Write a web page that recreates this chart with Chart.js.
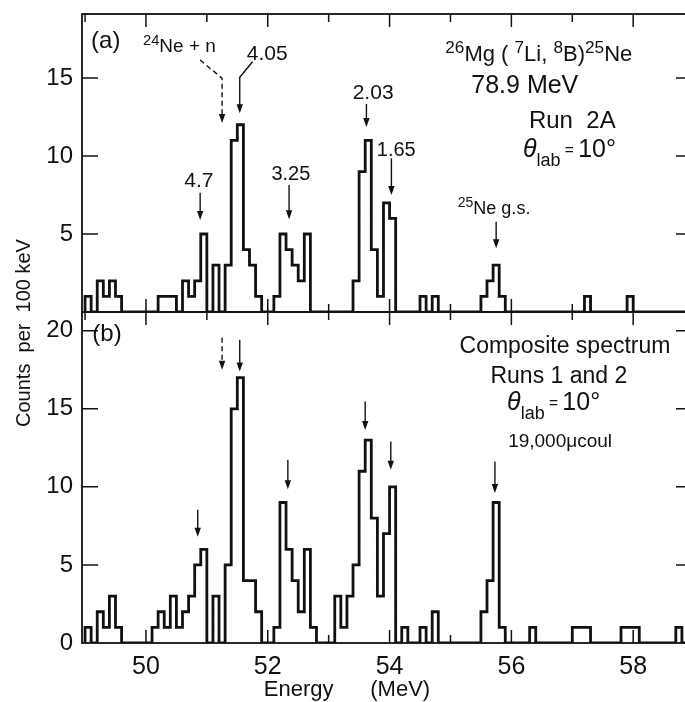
<!DOCTYPE html>
<html>
<head>
<meta charset="utf-8">
<script src="https://cdn.jsdelivr.net/npm/chart.js@4.4.1/dist/chart.umd.min.js"></script>
<style>
    html, body { margin: 0; padding: 0; background: #fff; overflow: hidden; }
    #wrap { position: relative; width: 685px; height: 702px; overflow: hidden; background: #fff; }
    #wrap canvas { position: absolute; left: 0; top: 0; }
</style>
</head>
<body>
<div id="wrap">
    <canvas id="panelA" width="700" height="702"></canvas>
    <canvas id="panelB" width="700" height="702"></canvas>
</div>
<script>
// counts per 100 keV bin, the bin is given by its lower edge in MeV (empty bins left out)
var binsA = [49.0, 49.2, 49.3, 49.4, 49.5,
    50.2, 50.3, 50.4, 50.6, 50.7, 50.8, 50.9,
    51.1, 51.3, 51.4, 51.5, 51.6, 51.7, 51.8,
    52.1, 52.2, 52.3, 52.4, 52.5, 52.6,
    53.4, 53.5, 53.6, 53.7, 53.8, 53.9, 54.0,
    54.5, 54.7, 55.5, 55.6, 55.7, 55.8, 57.2, 57.9];
var countsA = [1, 2, 1, 2, 1,
    1, 1, 1, 2, 1, 2, 5,
    3, 3, 11, 12, 4, 3, 1,
    1, 5, 4, 3, 2, 5,
    2, 9, 11, 4, 1, 7, 6,
    1, 1, 1, 2, 3, 1, 1, 1];

var binsB = [49.0, 49.2, 49.3, 49.4, 49.5,
    50.1, 50.2, 50.3, 50.4, 50.5, 50.6, 50.7, 50.8, 50.9,
    51.1, 51.3, 51.4, 51.5, 51.6, 51.7, 51.8,
    52.1, 52.2, 52.3, 52.4, 52.5, 52.6, 52.7,
    53.1, 53.2, 53.3, 53.4, 53.5, 53.6, 53.7, 53.8, 53.9, 54.0,
    54.2, 54.5, 54.7,
    55.5, 55.6, 55.7, 55.8,
    56.3, 57.0, 57.1, 57.2, 57.8, 57.9, 58.0, 58.7];
var countsB = [1, 2, 1, 3, 1,
    1, 2, 1, 3, 1, 2, 3, 5, 6,
    3, 5, 15, 17, 4, 4, 2,
    1, 9, 6, 4, 2, 6, 1,
    3, 1, 3, 5, 11, 13, 8, 3, 7, 10,
    1, 1, 2,
    2, 4, 9, 1,
    1, 1, 1, 1, 1, 1, 1, 1];

var firstBin = 49.0;
var lastBin = 58.8;

// axis ticks and labels
var energyTicks = [49, 50, 51, 52, 53, 54, 55, 56, 57, 58];
var energyLabels = [50, 52, 54, 56, 58];
var countTicksA = [5, 10, 15];
var countTicksB = [0, 5, 10, 15, 20];

// annotations, placed in data units (MeV, counts)
var textsA = [
    { e: 49.34, c: 16.9, size: 24, align: 'center', parts: [['(a)']] },
    { e: 49.95, c: 16.67, size: 19, align: 'left', parts: [['24', 'sup'], ['Ne + n']] },
    { e: 51.99, c: 16.15, size: 21, align: 'center', parts: [['4.05']] },
    { e: 50.87, c: 8.04, size: 21, align: 'center', parts: [['4.7']] },
    { e: 52.38, c: 8.46, size: 20, align: 'center', parts: [['3.25']] },
    { e: 53.73, c: 13.65, size: 21, align: 'center', parts: [['2.03']] },
    { e: 54.11, c: 10.0, size: 20, align: 'center', parts: [['1.65']] },
    { e: 55.12, c: 6.28, size: 18, align: 'left', parts: [['25', 'sup'], ['Ne g.s.']] },
    { e: 56.45, c: 16.09, size: 22, align: 'center', parts: [['26', 'sup'], ['Mg ( '], ['7', 'sup'], ['Li, '], ['8', 'sup'], ['B)'], ['25', 'sup'], ['Ne']] },
    { e: 56.22, c: 14.04, size: 25, align: 'center', parts: [['78.9 MeV']] },
    { e: 57.0, c: 11.79, size: 24, align: 'center', parts: [['Run  2A']] },
    { e: 56.19, c: 9.94, size: 25, align: 'left', parts: [['θ', 'it'], ['lab', 'sub'], [' = ', 'small'], ['10°']] }
];
var textsB = [
    { e: 49.36, c: 19.36, size: 24, align: 'center', parts: [['(b)']] },
    { e: 56.88, c: 18.59, size: 23, align: 'center', parts: [['Composite spectrum']] },
    { e: 56.78, c: 16.67, size: 23, align: 'center', parts: [['Runs 1 and 2']] },
    { e: 55.93, c: 14.94, size: 25, align: 'left', parts: [['θ', 'it'], ['lab', 'sub'], [' = ', 'small'], ['10°']] },
    { e: 56.8, c: 12.56, size: 19, align: 'center', parts: [['19,000μcoul']] }
];

var arrowsA = [
    { points: [[50.89, 16.15], [51.25, 14.98], [51.25, 12.12]], dashed: true },
    { points: [[51.75, 16.04], [51.54, 15.04], [51.54, 12.74]] },
    { points: [[50.89, 7.65], [50.89, 5.9]] },
    { points: [[52.35, 8.14], [52.35, 5.94]] },
    { points: [[53.62, 13.33], [53.62, 11.86]] },
    { points: [[54.03, 9.85], [54.03, 7.5]] },
    { points: [[55.75, 5.79], [55.75, 4.08]] }
];
var arrowsB = [
    { points: [[51.25, 19.55], [51.25, 17.5]], dashed: true },
    { points: [[51.54, 19.42], [51.54, 17.39]] },
    { points: [[50.85, 8.53], [50.85, 6.81]] },
    { points: [[52.33, 11.73], [52.33, 9.85]] },
    { points: [[53.6, 15.47], [53.6, 13.65]] },
    { points: [[54.02, 12.9], [54.02, 11.09]] },
    { points: [[55.73, 11.62], [55.73, 9.6]] }
];

var FONT = '"Liberation Sans", Arial, sans-serif';
var INK = '#111';
Chart.defaults.font.family = FONT;
Chart.defaults.color = INK;


// dense step points from the sparse bins, every bin gets a point at its lower edge
function histogramPoints(bins, counts) {
    var perBin = {};
    for (var i = 0; i < bins.length; i++) {
        perBin[Math.round(bins[i] * 10)] = counts[i];
    }
    var points = [{ x: firstBin, y: 0 }];
    var k0 = Math.round(firstBin * 10);
    var k1 = Math.round(lastBin * 10);
    for (var k = k0; k <= k1; k++) {
        points.push({ x: k / 10, y: perBin[k] || 0 });
    }
    points.push({ x: (k1 + 1) / 10, y: 0 });
    return points;
}

function drawText(ctx, item, px, py) {
    var base = item.size;
    var pieces = item.parts.map(function (p) {
        var kind = p[1] || '';
        var size = base, dy = 0, style = '';
        if (kind === 'sup') { size = base * 0.78; dy = -base * 0.38; }
        if (kind === 'sub') { size = base * 0.72; dy = base * 0.38; }
        if (kind === 'small') { size = base * 0.62; dy = -base * 0.08; }
        if (kind === 'it') { style = 'italic '; }
        var font = style + size.toFixed(1) + 'px ' + FONT;
        ctx.font = font;
        return { t: p[0], font: font, dy: dy, w: ctx.measureText(p[0]).width };
    });
    var total = 0;
    pieces.forEach(function (p) { total += p.w; });
    var x = item.align === 'center' ? px - total / 2 : px;
    ctx.textAlign = 'left';
    ctx.textBaseline = 'alphabetic';
    pieces.forEach(function (p) {
        ctx.font = p.font;
        ctx.fillText(p.t, x, py + p.dy);
        x += p.w;
    });
}

function drawArrow(ctx, pts, dashed) {
    var n = pts.length;
    var a = pts[n - 2], b = pts[n - 1];
    var ang = Math.atan2(b[1] - a[1], b[0] - a[0]);
    var head = 9, half = 3.2;
    ctx.save();
    ctx.lineWidth = 1.4;
    ctx.setLineDash(dashed ? [5, 3.5] : []);
    ctx.beginPath();
    ctx.moveTo(pts[0][0], pts[0][1]);
    for (var i = 1; i < n - 1; i++) ctx.lineTo(pts[i][0], pts[i][1]);
    ctx.lineTo(b[0] - Math.cos(ang) * head * 0.8, b[1] - Math.sin(ang) * head * 0.8);
    ctx.stroke();
    ctx.setLineDash([]);
    ctx.beginPath();
    ctx.moveTo(b[0], b[1]);
    ctx.lineTo(b[0] - Math.cos(ang) * head - Math.sin(ang) * half, b[1] - Math.sin(ang) * head + Math.cos(ang) * half);
    ctx.lineTo(b[0] - Math.cos(ang) * head + Math.sin(ang) * half, b[1] - Math.sin(ang) * head - Math.cos(ang) * half);
    ctx.closePath();
    ctx.fill();
    ctx.restore();
}

// frame with inward ticks, arrows and labels of one panel
function panelDecor(countTicks, texts, arrows, withTitles) {
    return {
        id: 'panelDecor',
        afterDatasetsDraw: function (chart) {
            var ctx = chart.ctx;
            var area = chart.chartArea;
            var sx = chart.scales.x;
            var sy = chart.scales.y;
            ctx.save();
            ctx.strokeStyle = INK;
            ctx.fillStyle = INK;
            ctx.lineWidth = 1.8;
            ctx.strokeRect(area.left, area.top, area.right - area.left, area.bottom - area.top);

            ctx.lineWidth = 1.5;
            ctx.beginPath();
            energyTicks.forEach(function (e) {
                var x = sx.getPixelForValue(e);
                var len = e % 2 === 0 ? 13 : 8;
                ctx.moveTo(x, area.bottom);
                ctx.lineTo(x, area.bottom - len);
                ctx.moveTo(x, area.top);
                ctx.lineTo(x, area.top + len);
            });
            countTicks.forEach(function (v) {
                if (v === 0) return;
                var y = sy.getPixelForValue(v);
                ctx.moveTo(area.left, y);
                ctx.lineTo(area.left + 16, y);
                ctx.moveTo(area.right, y);
                ctx.lineTo(area.right - 12, y);
            });
            ctx.stroke();

            arrows.forEach(function (a) {
                var pts = a.points.map(function (p) {
                    return [sx.getPixelForValue(p[0]), sy.getPixelForValue(p[1])];
                });
                drawArrow(ctx, pts, a.dashed);
            });

            texts.forEach(function (t) {
                drawText(ctx, t, sx.getPixelForValue(t.e), sy.getPixelForValue(t.c));
            });

            if (withTitles) {
                ctx.font = '20px ' + FONT;
                ctx.textAlign = 'center';
                ctx.textBaseline = 'middle';
                ctx.save();
                ctx.translate(24, 333);
                ctx.rotate(-Math.PI / 2);
                ctx.fillText('Counts  per  100 keV', 0, 0);
                ctx.restore();
                ctx.font = '22px ' + FONT;
                ctx.textBaseline = 'alphabetic';
                ctx.fillText('Energy      (MeV)', 347, 696);
            }
            ctx.restore();
        }
    };
}

function histogramDataset(bins, counts) {
    return {
        data: histogramPoints(bins, counts),
        stepped: true,
        borderColor: INK,
        borderWidth: 2.8,
        pointRadius: 0,
        fill: false
    };
}

function countAxis(max, ticks) {
    return {
        min: 0,
        max: max,
        afterBuildTicks: function (scale) {
            scale.ticks = ticks.map(function (v) { return { value: v }; });
        },
        afterFit: function (scale) {
            scale.width = 82;
            scale.paddingTop = 0;
            scale.paddingBottom = 0;
        },
        grid: { display: false, drawTicks: false },
        border: { display: false },
        ticks: { font: { size: 24 }, padding: 9, color: INK }
    };
}

var chartA = new Chart(document.getElementById('panelA'), {
    type: 'line',
    data: { datasets: [histogramDataset(binsA, countsA)] },
    options: {
        responsive: false,
        animation: false,
        events: [],
        layout: { padding: { left: 0, top: 14, right: 12, bottom: 390 } },
        plugins: { legend: { display: false }, tooltip: { enabled: false } },
        scales: {
            x: { type: 'linear', min: 48.95, max: 58.9, display: false },
            y: countAxis(19.1, countTicksA)
        }
    },
    plugins: [panelDecor(countTicksA, textsA, arrowsA, false)]
});

var chartB = new Chart(document.getElementById('panelB'), {
    type: 'line',
    data: { datasets: [histogramDataset(binsB, countsB)] },
    options: {
        responsive: false,
        animation: false,
        events: [],
        layout: { padding: { left: 0, top: 312, right: 12, bottom: 0 } },
        plugins: { legend: { display: false }, tooltip: { enabled: false } },
        scales: {
            x: {
                type: 'linear',
                min: 48.95,
                max: 58.9,
                afterBuildTicks: function (scale) {
                    scale.ticks = energyTicks.map(function (v) { return { value: v }; });
                },
                afterFit: function (scale) { scale.height = 59; },
                grid: { display: false, drawTicks: false },
                border: { display: false },
                ticks: {
                    autoSkip: false,
                    maxRotation: 0,
                    font: { size: 25 },
                    padding: 9,
                    color: INK,
                    callback: function (v) {
                        return energyLabels.indexOf(v) >= 0 ? String(v) : '';
                    }
                }
            },
            y: countAxis(21.2, countTicksB)
        }
    },
    plugins: [panelDecor(countTicksB, textsB, arrowsB, true)]
});
</script>
</body>
</html>
